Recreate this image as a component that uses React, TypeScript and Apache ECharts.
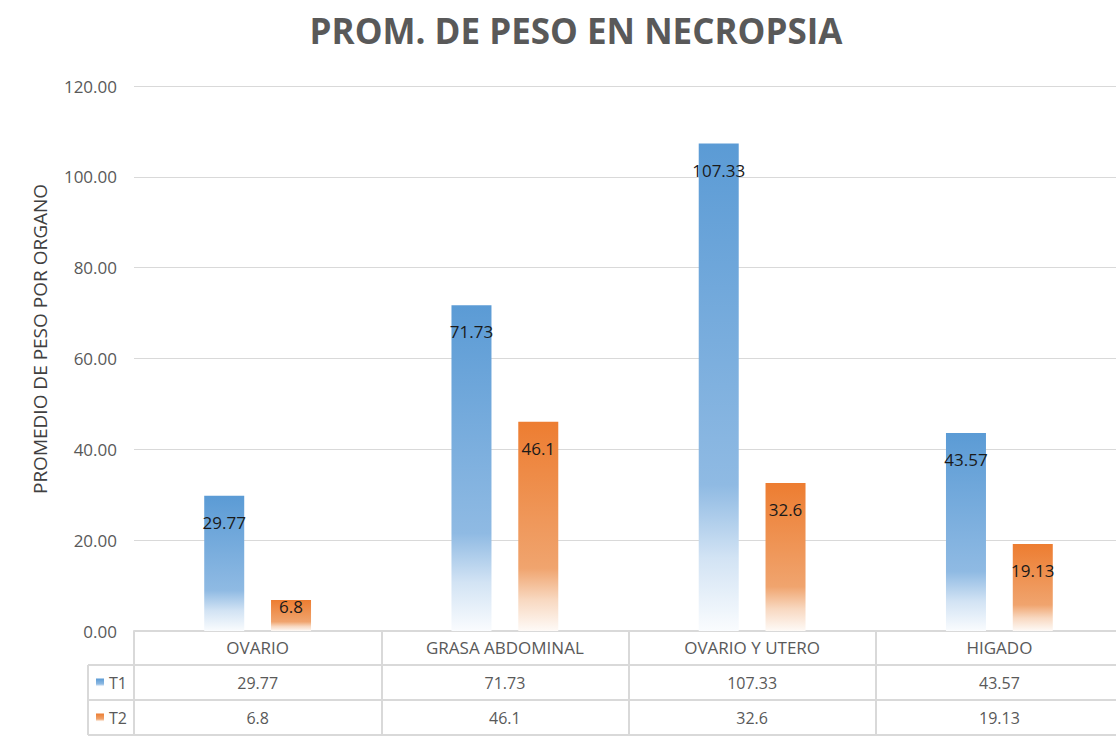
import React, { useEffect, useRef } from 'react';
import * as echarts from 'echarts';

const categories = ['OVARIO', 'GRASA ABDOMINAL', 'OVARIO Y UTERO', 'HIGADO'];
const seriesNames = ['T1', 'T2'];
const t1Values = [29.77, 71.73, 107.33, 43.57];
const t2Values = [6.8, 46.1, 32.6, 19.13];
const yMin = 0;
const yMax = 120;
const yInterval = 20;

const W = 1124;
const H = 743;
const GRID_LEFT = 134;
const GRID_TOP = 86;
const GRID_RIGHT = 1;
const GRID_BOTTOM_Y = 631;
const TABLE_LEFT = 88;
const ROW_LINES = [665, 700, 735];
const GRAY = '#595959';
const BORDER = '#d9d9d9';
const FONT = '"Open Sans", "Noto Sans", sans-serif';

const blueGrad = () =>
  new echarts.graphic.LinearGradient(0, 0, 0, 1, [
    { offset: 0, color: '#5b9bd5' },
    { offset: 0.7, color: '#8fbae3' },
    { offset: 0.85, color: '#d2e3f4' },
    { offset: 1, color: '#fafcfe' },
  ]);
const orangeGrad = () =>
  new echarts.graphic.LinearGradient(0, 0, 0, 1, [
    { offset: 0, color: '#ed7d31' },
    { offset: 0.7, color: '#f0a46e' },
    { offset: 0.85, color: '#f8d8c0' },
    { offset: 1, color: '#fefaf7' },
  ]);

export default function App() {
  const ref = useRef<HTMLDivElement>(null);
  useEffect(() => {
    document.body.style.margin = '0';
    document.body.style.overflow = 'hidden';
    document.documentElement.style.overflow = 'hidden';
    if (!ref.current) return;
    const chart = echarts.init(ref.current, null, { renderer: 'svg' });
    const labelCommon = {
      show: true,
      position: 'insideTop' as const,
      distance: 18,
      color: '#1a1a1a',
      fontSize: 17,
      fontFamily: FONT,
      formatter: (p: any) => String(p.value),
    };
    const mkData = (vals: number[]) =>
      vals.map((v) => (v < 10 ? { value: v, label: { distance: -2 } } : v));
    const option: any = {
      animation: false,
      backgroundColor: '#ffffff',
      textStyle: { fontFamily: FONT },
      title: {
        text: 'PROM. DE PESO EN NECROPSIA',
        left: 571,
        top: 8,
        textAlign: 'center',
        textStyle: { color: GRAY, fontSize: 35, fontWeight: 'bold', fontFamily: FONT },
      },
      grid: { left: GRID_LEFT, top: GRID_TOP, right: GRID_RIGHT, bottom: H - GRID_BOTTOM_Y },
      xAxis: {
        type: 'category',
        data: categories,
        axisLine: { show: true, lineStyle: { color: BORDER, width: 2 } },
        axisTick: { show: true, length: 104, lineStyle: { color: BORDER, width: 2 } },
        axisLabel: { color: GRAY, fontSize: 17, margin: 8, fontFamily: FONT },
      },
      yAxis: {
        type: 'value',
        min: yMin,
        max: yMax,
        interval: yInterval,
        axisLine: { show: false },
        axisTick: { show: false },
        splitLine: { lineStyle: { color: BORDER, width: 1 } },
        axisLabel: {
          color: GRAY,
          fontSize: 17,
          margin: 17,
          fontFamily: FONT,
          formatter: (v: number) => v.toFixed(2),
        },
      },
      series: [
        {
          name: seriesNames[0],
          type: 'bar',
          data: mkData(t1Values),
          barWidth: 40,
          barGap: '67%',
          itemStyle: { color: blueGrad() },
          label: labelCommon,
        },
        {
          name: seriesNames[1],
          type: 'bar',
          data: mkData(t2Values),
          barWidth: 40,
          itemStyle: { color: orangeGrad() },
          label: labelCommon,
        },
      ],
    };
    chart.setOption(option);

    const right = W - GRID_RIGHT;
    const graphics: any[] = [];
    graphics.push({
      type: 'text',
      x: 40,
      y: 339,
      rotation: Math.PI / 2,
      style: {
        text: 'PROMEDIO DE PESO POR ORGANO',
        fill: '#404040',
        fontSize: 19,
        fontFamily: FONT,
        align: 'center',
        verticalAlign: 'middle',
      },
    });
    ROW_LINES.forEach((y) => {
      graphics.push({
        type: 'line',
        shape: { x1: TABLE_LEFT, y1: y, x2: right, y2: y },
        style: { stroke: BORDER, lineWidth: 2 },
      });
    });
    graphics.push({
      type: 'line',
      shape: { x1: TABLE_LEFT, y1: ROW_LINES[0], x2: TABLE_LEFT, y2: ROW_LINES[2] },
      style: { stroke: BORDER, lineWidth: 2 },
    });
    const rows = [t1Values, t2Values];
    const grads = [blueGrad, orangeGrad];
    rows.forEach((vals, r) => {
      const cy = (ROW_LINES[r] + ROW_LINES[r + 1]) / 2;
      graphics.push({
        type: 'rect',
        shape: { x: 96, y: cy - 4, width: 8, height: 8 },
        style: { fill: grads[r]() },
      });
      graphics.push({
        type: 'text',
        x: 109,
        y: cy,
        style: {
          text: seriesNames[r],
          fill: GRAY,
          fontSize: 16,
          fontFamily: FONT,
          align: 'left',
          verticalAlign: 'middle',
        },
      });
      vals.forEach((v, i) => {
        const px = chart.convertToPixel({ xAxisIndex: 0 }, i) as number;
        graphics.push({
          type: 'text',
          x: px,
          y: cy,
          style: {
            text: String(v),
            fill: GRAY,
            fontSize: 16,
            fontFamily: FONT,
            align: 'center',
            verticalAlign: 'middle',
          },
        });
      });
    });
    chart.setOption({ graphic: graphics });
    return () => chart.dispose();
  }, []);
  return <div ref={ref} style={{ width: W, height: H }} />;
}
